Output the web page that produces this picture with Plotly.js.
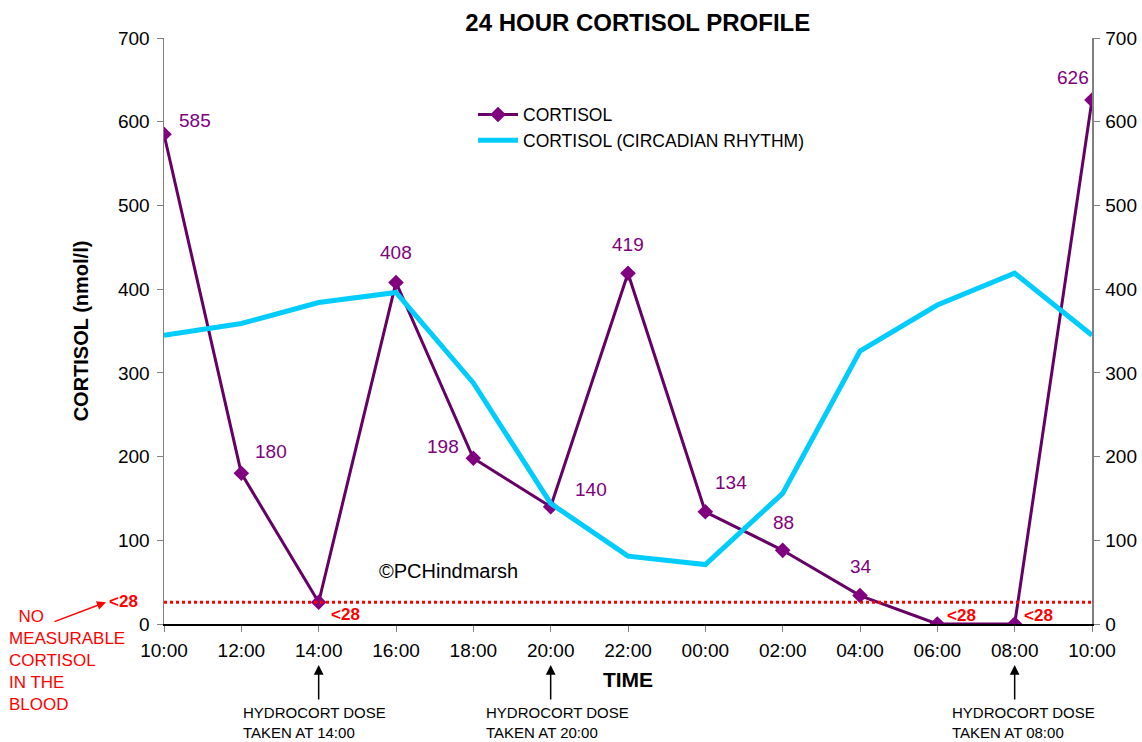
<!DOCTYPE html>
<html>
<head>
<meta charset="utf-8">
<script src="https://cdn.plot.ly/plotly-3.0.1.min.js"></script>
<style>html,body{margin:0;padding:0;background:#fff;}#chart{width:1142px;height:742px;}</style>
</head>
<body>
<div id="chart"></div>
<script>
var timeLabels = ["10:00","12:00","14:00","16:00","18:00","20:00","22:00","00:00","02:00","04:00","06:00","08:00","10:00"];
var cortisol = [585, 180, 26, 408, 198, 140, 419, 134, 88, 34, 0, 0, 626];
var cortisolLabels = ["585","180","<28","408","198","140","419","134","88","34","<28","<28","626"];
var circadian = [345, 359, 384, 396, 288, 144, 81, 71, 156, 326, 381, 419, 345];
var detectionLimit = 26;
var doseIndex = [2, 5, 11];

var xIdx = timeLabels.map(function(_, i){ return i; });
var FONT = "Liberation Sans, Arial, sans-serif";

var traces = [
  {
    x: xIdx, y: cortisol, name: "CORTISOL", type: "scatter", mode: "lines+markers",
    line: {color: "#660066", width: 3},
    marker: {symbol: "diamond", size: 12, color: "#800080"}
  },
  {
    x: xIdx, y: circadian, name: "CORTISOL (CIRCADIAN RHYTHM)", type: "scatter", mode: "lines",
    line: {color: "#00CCFF", width: 5}
  },
  {
    x: [0, 12], y: [0, 700], yaxis: "y2", type: "scatter", mode: "none",
    showlegend: false, hoverinfo: "skip"
  }
];

// label offsets (pixel shifts), style only
var offs = [[31,14],[30,22],[27,-12],[0,30],[-30,12],[40,17],[0,29],[26,29],[1,28],[1,29],[24,9],[24,9],[-19,22]];
var annotations = [];
cortisol.forEach(function(v, i){
  var isLow = cortisolLabels[i].charAt(0) === "<";
  annotations.push({
    x: xIdx[i], y: v, xref: "x", yref: "y", text: isLow ? "<b>" + cortisolLabels[i] + "</b>" : cortisolLabels[i],
    showarrow: false, xshift: offs[i][0], yshift: offs[i][1],
    font: {family: FONT, size: isLow ? 17 : 19, color: isLow ? "#FF0000" : "#800080"}
  });
});

// dose arrows
var doseTextShift = [-77, -66, -64];
doseIndex.forEach(function(i, k){
  annotations.push({
    x: xIdx[i], y: 0, xref: "x", yref: "y", ax: 0, ay: 36, axref: "pixel", ayref: "pixel",
    yshift: -41, text: "", showarrow: true, arrowhead: 2, arrowsize: 1.3, arrowwidth: 1.5, arrowcolor: "#000"
  });
  annotations.push({
    x: xIdx[i], y: 0, xref: "x", yref: "y", xanchor: "left", yanchor: "top", align: "left",
    xshift: doseTextShift[k], yshift: -79, showarrow: false, borderpad: 0,
    text: "HYDROCORT DOSE<br>TAKEN AT " + timeLabels[i],
    font: {family: FONT, size: 15, color: "#000"}
  });
});

annotations.push({
  x: 0, y: detectionLimit, xref: "x", yref: "y", xanchor: "right", yanchor: "middle", xshift: -24, yshift: 1,
  text: "<b>&lt;28</b>", showarrow: false,
  font: {family: FONT, size: 17, color: "#FF0000"}
});
annotations.push({
  x: 0, y: 0, xref: "paper", yref: "paper", xanchor: "left", yanchor: "top", align: "left",
  text: "&nbsp;&nbsp;NO<br>MEASURABLE<br>CORTISOL<br>IN THE<br>BLOOD", showarrow: false, xshift: -157, yshift: 19,
  font: {family: FONT, size: 17, color: "#FF0000"}
});
annotations.push({
  x: 0, y: detectionLimit, xref: "x", yref: "y", ax: -53, ay: 20, axref: "pixel", ayref: "pixel",
  xshift: -58, yshift: 0, text: "", showarrow: true, arrowhead: 2, arrowsize: 1.2, arrowwidth: 1.5, arrowcolor: "#FF0000"
});
annotations.push({
  x: 3.685, y: 63, xref: "x", yref: "y", xanchor: "center", yanchor: "middle",
  text: "©PCHindmarsh", showarrow: false,
  font: {family: FONT, size: 20, color: "#000"}
});

var layout = {
  width: 1142, height: 742,
  margin: {l: 164, r: 50, t: 38, b: 118},
  paper_bgcolor: "#fff", plot_bgcolor: "#fff",
  font: {family: FONT, color: "#000"},
  title: {text: "<b>24 HOUR CORTISOL PROFILE</b>", x: 0.5585, xanchor: "center", y: 0.97, yanchor: "middle",
          font: {size: 24, family: FONT, color: "#000"}},
  xaxis: {
    range: [0, 12], tickvals: xIdx, ticktext: timeLabels, showgrid: false, zeroline: false,
    showline: true, linecolor: "#000", linewidth: 1.5, ticks: "outside", ticklen: 6, tickcolor: "#808080",
    tickfont: {size: 19}, ticklabelstandoff: 3,
    title: {text: "<b>TIME</b>", font: {size: 21}, standoff: 12}
  },
  yaxis: {
    range: [0, 700], dtick: 100, showgrid: false, zeroline: false,
    showline: true, linecolor: "#808080", linewidth: 1.5, ticks: "outside", ticklen: 6, tickcolor: "#808080",
    tickfont: {size: 19}, ticklabelstandoff: 3,
    title: {text: "<b>CORTISOL (nmol/l)</b>", font: {size: 20}, standoff: 24}
  },
  yaxis2: {
    range: [0, 700], dtick: 100, overlaying: "y", side: "right", showgrid: false, zeroline: false,
    showline: true, linecolor: "#808080", linewidth: 1.5, ticks: "outside", ticklen: 6, tickcolor: "#808080",
    tickfont: {size: 19}, ticklabelstandoff: 2
  },
  legend: {x: 0.333, y: 0.90, xanchor: "left", yanchor: "top", bgcolor: "rgba(0,0,0,0)",
           font: {size: 17.5}, tracegroupgap: 0, itemwidth: 40},
  shapes: [
    {type: "line", xref: "x", yref: "y", x0: 0, x1: 12.16, y0: detectionLimit, y1: detectionLimit,
     line: {color: "#FF0000", width: 3, dash: "dot"}}
  ],
  annotations: annotations,
  showlegend: true
};

Plotly.newPlot("chart", traces, layout, {displayModeBar: false, staticPlot: true});
</script>
</body>
</html>
